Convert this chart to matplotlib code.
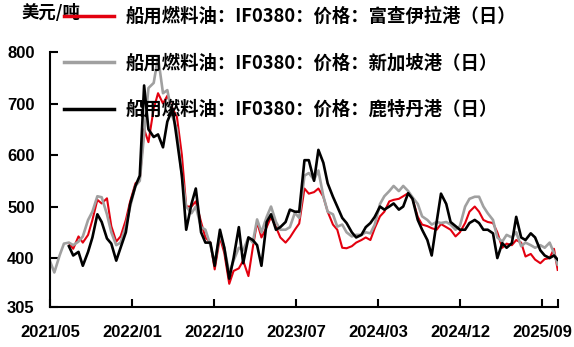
import numpy as np
import pandas as pd
import matplotlib
matplotlib.use('Agg')
import matplotlib.pyplot as plt
import matplotlib.dates as mdates

plt.rcParams['font.family'] = ['Noto Sans CJK SC', 'DejaVu Sans']

# semi-monthly sample dates, 2021/05 .. 2025/10
dates = list(pd.date_range('2021-05-01', '2025-10-15', freq='SMS')) + [pd.Timestamp('2025-10-27')]

# Singapore (gray), from 2021-05-01
sg = [394, 372, 405, 428, 430, 425, 432, 442, 474, 490, 520, 518, 485, 450, 425, 430,
      462, 500, 540, 550, 640, 730, 740, 790, 720, 726, 674, 650, 560, 500, 487, 500,
      460, 455, 425, 390, 447, 420, 370, 395, 420, 415, 440, 430, 475, 450, 480, 500,
      470, 455, 455, 460, 488, 478, 560, 565, 552, 570, 520, 490, 485, 461, 465, 450,
      442, 445, 445, 450, 448, 465, 505, 520, 530, 540, 530, 540, 530, 518, 505, 481,
      474, 465, 470, 468, 470, 465, 455, 462, 500, 515, 519, 519, 500, 487, 474, 440,
      432, 445, 440, 450, 423, 430, 425, 420, 425, 420, 430, 410, 387]

# Fujairah (red), from 2021-07-01
fj = [429, 418, 442, 430, 445, 474, 513, 506, 516, 462, 432, 442,
      474, 510, 545, 552, 650, 625, 690, 720, 700, 715, 690, 674, 600, 500, 500, 510,
      470, 440, 430, 378, 440, 410, 350, 375, 380, 395, 365, 420, 470, 440, 460, 480,
      460, 440, 430, 440, 455, 467, 535, 525, 528, 535, 519, 490, 465, 455, 420, 419,
      423, 430, 435, 440, 435, 458, 481, 490, 510, 513, 515, 520, 526, 515, 480, 465,
      462, 458, 455, 466, 460, 455, 442, 450, 468, 490, 500, 490, 474, 470, 468, 450,
      420, 428, 425, 435, 430, 403, 408, 397, 390, 398, 400, 418, 377]

# Rotterdam (black), from 2021-07-01
rt = [423, 405, 412, 385, 412, 440, 485, 470, 438, 428, 395, 420,
      450, 505, 540, 560, 735, 650, 635, 640, 615, 665, 690, 630, 560, 455, 505, 535,
      450, 430, 430, 385, 455, 420, 360, 400, 460, 390, 440, 435, 425, 385, 470, 485,
      455, 460, 470, 494, 490, 490, 590, 590, 550, 610, 585, 545, 519, 500, 478, 468,
      450, 440, 445, 460, 468, 480, 500, 494, 500, 506, 494, 500, 526, 515, 474, 455,
      435, 405, 470, 525, 505, 470, 462, 455, 455, 468, 474, 468, 455, 455, 448, 400,
      429, 420, 429, 480, 440, 435, 448, 440, 415, 405, 400, 405, 397]

labels = ['船用燃料油：IF0380：价格：富查伊拉港（日）',
          '船用燃料油：IF0380：价格：新加坡港（日）',
          '船用燃料油：IF0380：价格：鹿特丹港（日）']
tick_labels = ['2021/05', '2022/01', '2022/10', '2023/07', '2024/03', '2024/12', '2025/09']
yticks = [305, 400, 500, 600, 700, 800]

fig = plt.figure(figsize=(5.74, 3.47), dpi=100)
ax = fig.add_axes([50/574, 1-307/347, 508/574, 255/347])

ax.plot(dates[4:], fj, color='#E3000F', lw=1.5, label=labels[0])
ax.plot(dates, sg, color='#A0A0A0', lw=1.9, label=labels[1])
ax.plot(dates[4:], rt, color='black', lw=1.9, label=labels[2])

start = pd.Timestamp('2021-05-01')
tick_pos = [start + pd.Timedelta(days=265*i) for i in range(len(tick_labels))]
ax.set_xlim(start, pd.Timestamp('2025-10-28'))
ax.set_xticks(tick_pos + [pd.Timestamp('2025-10-28')])
ax.set_xticklabels(tick_labels + [''])
ax.set_ylim(305, 800)
ax.set_yticks(yticks)

for s in ['top', 'right']:
    ax.spines[s].set_visible(False)
for s in ['left', 'bottom']:
    ax.spines[s].set_linewidth(1.5)
ax.tick_params(direction='in', length=6, width=1.5)
ax.tick_params(axis='y', pad=11)
ax.tick_params(axis='x', pad=13)
for lab in ax.get_xticklabels() + ax.get_yticklabels():
    lab.set_family(['Liberation Sans', 'DejaVu Sans'])
    lab.set_fontweight('bold')
    lab.set_fontsize(12)

fig.text(22/574, 1-13/347, '美元/吨', fontsize=12.5, fontweight='bold', va='center', ha='left')

leg = fig.legend(loc='upper left', bbox_to_anchor=(64/574, 1-7/347), frameon=False,
                 borderpad=0, borderaxespad=0, handlelength=2.7, handletextpad=0.65,
                 labelspacing=1.5, prop={'size': 13.2, 'weight': 'bold'})
for h in leg.legend_handles:
    h.set_linewidth(2.5)

fig.savefig('out.png', dpi=100)
